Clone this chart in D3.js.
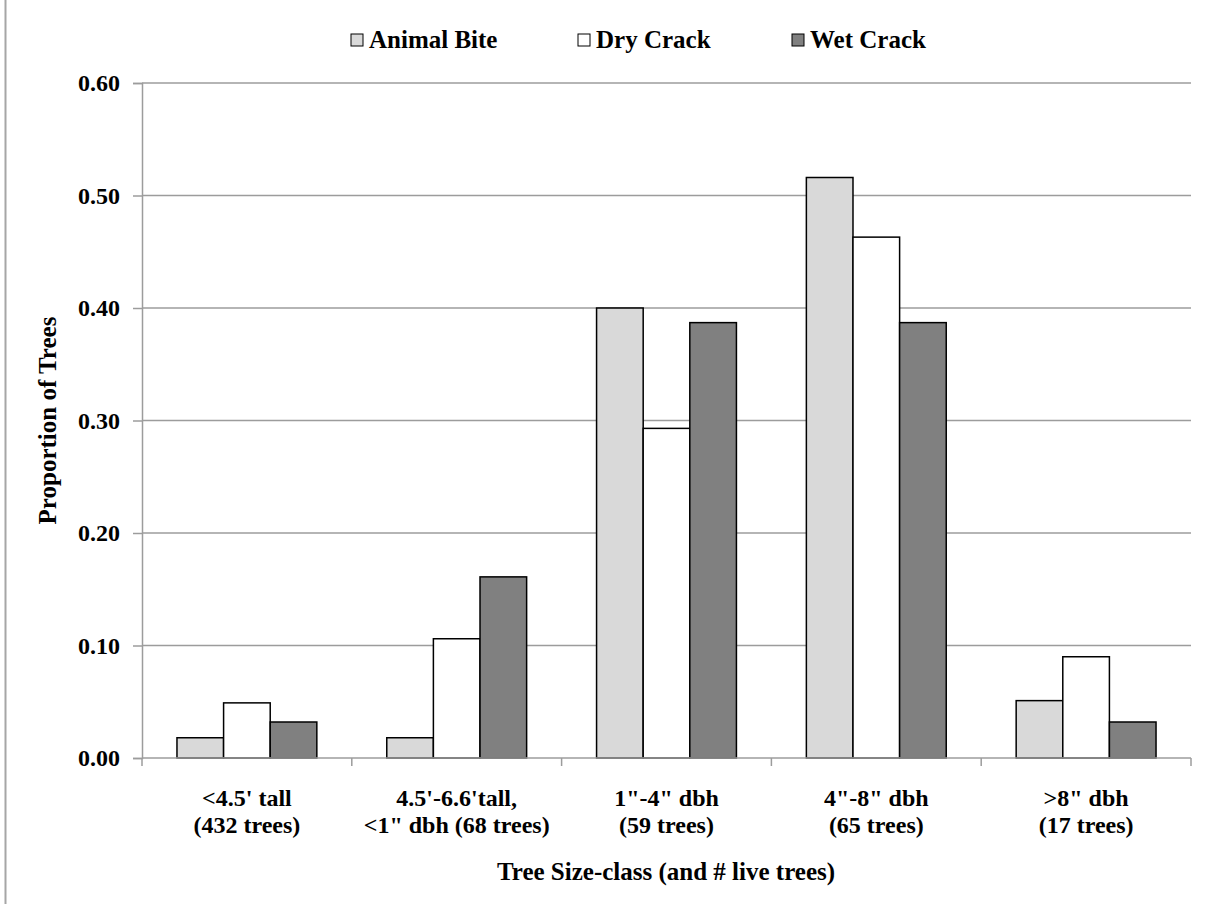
<!DOCTYPE html>
<html>
<head>
<meta charset="utf-8">
<script src="https://cdn.jsdelivr.net/npm/d3@7"></script>
<style>
  body { margin: 0; background: #fff; }
  text { font-family: "Liberation Serif", "Times New Roman", serif; font-weight: bold; fill: #000; }
</style>
</head>
<body>
<div class="chart"></div>
<script>
var width = 1214,
    height = 904;

var margin = {top: 83, right: 23, bottom: 146, left: 142};

// data
var categories = ["<4.5' tall|(432 trees)", "4.5'-6.6'tall,|<1\" dbh (68 trees)",
                  "1\"-4\" dbh|(59 trees)", "4\"-8\" dbh|(65 trees)", ">8\" dbh|(17 trees)"];
var seriesNames = ["Animal Bite", "Dry Crack", "Wet Crack"];
var animalBite = [0.018, 0.018, 0.400, 0.516, 0.051];
var dryCrack   = [0.049, 0.106, 0.293, 0.463, 0.090];
var wetCrack   = [0.032, 0.161, 0.387, 0.387, 0.032];
var yTicks = [0, 0.1, 0.2, 0.3, 0.4, 0.5, 0.6];
var colors = ["#d9d9d9", "#ffffff", "#808080"];

var seriesValues = [animalBite, dryCrack, wetCrack];

var svg = d3.select(".chart").append("svg")
    .attr("width", width)
    .attr("height", height);

// outer frame (left edge visible in the reference)
svg.append("line")
    .attr("x1", 5.5).attr("x2", 5.5)
    .attr("y1", 0).attr("y2", height)
    .attr("stroke", "#a6a6a6")
    .attr("stroke-width", 2);

var w = width - margin.left - margin.right,
    h = height - margin.top - margin.bottom;

var g = svg.append("g")
    .attr("transform", "translate(" + margin.left + "," + margin.top + ")");

var x0 = d3.scaleBand().domain(d3.range(categories.length)).range([0, w]);
var x1 = d3.scaleBand().domain(d3.range(seriesNames.length))
    .range([x0.bandwidth() / 6, x0.bandwidth() * 5 / 6]);
var y = d3.scaleLinear().domain([0, 0.6]).range([h, 0]);

// gridlines
g.selectAll(".grid")
    .data(yTicks.slice(1))
  .enter().append("line")
    .attr("class", "grid")
    .attr("x1", 0).attr("x2", w)
    .attr("y1", function(d){ return y(d) })
    .attr("y2", function(d){ return y(d) })
    .attr("stroke", "#9c9c9c")
    .attr("stroke-width", 1.5);

// y axis
var yAxis = g.append("g")
    .call(d3.axisLeft(y).tickValues(yTicks).tickFormat(d3.format(".2f")).tickSize(9).tickPadding(13));
yAxis.select(".domain").attr("stroke", "#9c9c9c").attr("stroke-width", 1.5);
yAxis.selectAll(".tick line").attr("stroke", "#9c9c9c").attr("stroke-width", 1.5);
yAxis.selectAll("text")
    .style("font-family", "Liberation Serif")
    .style("font-weight", "bold")
    .style("font-size", "24px")
    .attr("fill", "#000");

// bars
var groups = g.selectAll(".group")
    .data(categories)
  .enter().append("g")
    .attr("class", "group")
    .attr("transform", function(d, i){ return "translate(" + x0(i) + ",0)" });

groups.selectAll("rect")
    .data(function(d, i){ return seriesValues.map(function(s, j){ return {s: j, v: s[i]} }) })
  .enter().append("rect")
    .attr("x", function(d){ return x1(d.s) })
    .attr("width", x1.bandwidth())
    .attr("y", function(d){ return y(d.v) })
    .attr("height", function(d){ return h - y(d.v) })
    .attr("fill", function(d){ return colors[d.s] })
    .attr("stroke", "#000")
    .attr("stroke-width", 1.5);

// x axis line and ticks between categories
g.append("line")
    .attr("x1", 0).attr("x2", w)
    .attr("y1", h).attr("y2", h)
    .attr("stroke", "#9c9c9c")
    .attr("stroke-width", 1.5);

g.selectAll(".xtick")
    .data(d3.range(categories.length + 1))
  .enter().append("line")
    .attr("x1", function(d){ return d * x0.step() })
    .attr("x2", function(d){ return d * x0.step() })
    .attr("y1", h).attr("y2", h + 8)
    .attr("stroke", "#9c9c9c")
    .attr("stroke-width", 1.5);

// category labels
var labels = g.selectAll(".xlabel")
    .data(categories)
  .enter().append("text")
    .attr("class", "xlabel")
    .attr("text-anchor", "middle")
    .style("font-size", "24px")
    .attr("transform", function(d, i){ return "translate(" + (x0(i) + x0.bandwidth() / 2) + "," + (h + 48) + ")" });

labels.selectAll("tspan")
    .data(function(d){ return d.split("|") })
  .enter().append("tspan")
    .attr("x", 0)
    .attr("dy", function(d, i){ return i ? 27 : 0 })
    .text(function(d){ return d });

// axis titles
svg.append("text")
    .attr("text-anchor", "middle")
    .style("font-size", "25px")
    .attr("x", 666).attr("y", 880)
    .text("Tree Size-class (and # live trees)");

svg.append("text")
    .attr("text-anchor", "middle")
    .style("font-size", "25px")
    .attr("transform", "translate(56," + (margin.top + h / 2) + ") rotate(-90)")
    .text("Proportion of Trees");

// legend
var legendX = [351, 578, 792];
var legend = svg.selectAll(".legend")
    .data(seriesNames)
  .enter().append("g")
    .attr("class", "legend")
    .attr("transform", function(d, i){ return "translate(" + legendX[i] + ",40)" });

legend.append("rect")
    .attr("x", 0).attr("y", -6)
    .attr("width", 12).attr("height", 12)
    .attr("fill", function(d, i){ return colors[i] })
    .attr("stroke", "#000")
    .attr("stroke-width", 1);

legend.append("text")
    .attr("x", 18).attr("y", 8)
    .style("font-size", "25px")
    .text(function(d){ return d });
</script>
</body>
</html>
